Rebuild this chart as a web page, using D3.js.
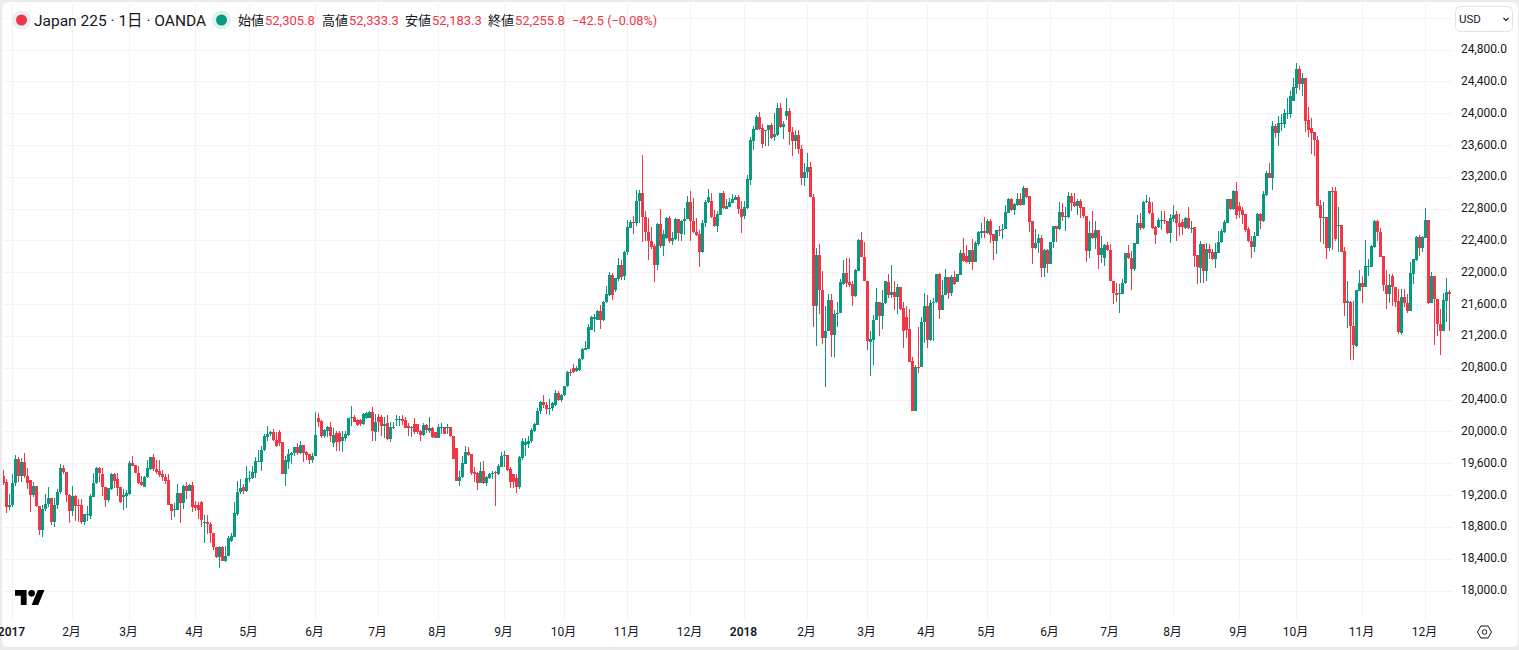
<!DOCTYPE html>
<html><head><meta charset="utf-8">
<script src="https://cdn.jsdelivr.net/npm/d3@7/dist/d3.min.js"></script>
<style>
html,body{margin:0;padding:0;background:#ebebeb;overflow:hidden}
svg{display:block}
text{font-family:Roboto,"Noto Sans CJK JP",sans-serif}
</style></head><body><svg id="c" width="1519" height="650"></svg>
<script>
// OHLC rows per month: [open, high, low, close]
const jan2017=[[19440,19520,19320,19350],[19370,19400,18970,19050],[19055,19210,19015,19080],[19080,19465,19045,19350],[19350,19705,19310,19650],[19650,19680,19360,19440],[19440,19660,19360,19610],[19610,19730,19420,19435],[19435,19545,19275,19350],[19390,19390,18990,19200],[19200,19360,19170,19315],[19315,19315,19055,19065],[19065,19065,18695,18765],[18765,19075,18675,19030],[19025,19210,19005,19085],[19085,19300,19055,19160],[19160,19160,18825,18865],[18865,19165,18800,19080],[19075,19275,19025,19235],[19235,19590,19210,19540],[19540,19575,19465,19485],[19485,19485,19110,19200],[19200,19210,18850,19005]];
const feb2017=[[19003,19309,18940,19183],[19183,19200,18877,19066],[19070,19150,18856,19065],[19070,19150,18830,18856],[18856,18961,18823,18961],[18953,19065,18877,18961],[18940,19212,18898,19183],[19179,19476,19170,19346],[19346,19556,19338,19539],[19539,19548,19359,19476],[19464,19535,19191,19296],[19296,19296,19045,19141],[19141,19292,19108,19283],[19275,19476,19267,19464],[19464,19476,19283,19380],[19400,19476,19191,19283],[19296,19296,19100,19108],[19170,19275,19015,19204],[19191,19267,19032,19221]];
const mar2017=[[19212,19631,19204,19602],[19602,19694,19560,19560],[19581,19581,19476,19476],[19476,19568,19334,19350],[19359,19443,19309,19325],[19304,19443,19296,19422],[19422,19644,19409,19539],[19527,19682,19518,19673],[19673,19715,19506,19527],[19527,19640,19464,19493],[19506,19640,19422,19455],[19464,19518,19380,19422],[19422,19464,19338,19380],[19388,19464,19078,19078],[19087,19087,18890,19003],[19015,19100,18919,19024],[19015,19338,19011,19225],[19225,19225,18848,19100],[19100,19325,19024,19317],[19309,19359,19149,19254],[19254,19338,19246,19330],[19330,19359,18990,19045]];
const apr2017=[[19074,19128,19003,19036],[19074,19107,18898,19015],[19107,19128,18793,18890],[18848,18948,18596,18860],[18865,18948,18710,18835],[18835,18865,18596,18718],[18722,18722,18513,18542],[18542,18542,18404,18425],[18425,18563,18286,18550],[18550,18563,18366,18374],[18374,18563,18353,18437],[18437,18688,18429,18655],[18626,18722,18605,18680],[18676,19107,18668,18969],[18961,19380,18940,19233],[19233,19401,19212,19283],[19296,19338,19212,19254],[19254,19568,19233,19409]];
const may2017=[[19400,19500,19359,19413],[19409,19568,19401,19493],[19476,19673,19418,19627],[19619,19770,19610,19631],[19619,19820,19500,19770],[19770,19966,19757,19937],[19933,20063,19883,19966],[19966,20008,19945,19987],[19987,20029,19883,19895],[19895,19987,19799,19820],[19996,20017,19811,19853],[19862,19862,19464,19464],[19464,19694,19317,19640],[19619,19778,19527,19715],[19703,19744,19589,19728],[19723,19799,19694,19799],[19799,19853,19703,19728],[19728,19883,19715,19828],[19828,19828,19610,19728],[19736,19757,19644,19703],[19715,19715,19589,19636],[19640,19728,19602,19694]];
const jun2017=[[19694,20247,19686,19954],[20163,20230,20050,20122],[20134,20147,19912,19945],[19945,20029,19912,20021],[20008,20063,19925,20050],[20050,20113,19870,19945],[19853,20038,19799,19954],[19975,20008,19757,19862],[19975,20008,19757,19870],[19883,20008,19744,19925],[19912,20008,19883,19966],[19958,20163,19945,20163],[20163,20314,20071,20176],[20176,20205,20113,20122],[20147,20155,20071,20080],[20147,20155,20071,20092],[20092,20230,20080,20218],[20168,20239,20155,20226],[20168,20260,20163,20239],[20239,20302,19883,20008],[19987,20218,19883,20122]];
const jul2017=[[20176,20218,19996,20113],[20176,20205,19945,20063],[20063,20176,19912,20092],[20105,20205,19895,19904],[19904,20113,19870,20050],[20042,20122,20029,20059],[20147,20205,20063,20155],[20147,20189,20071,20155],[20155,20205,20080,20126],[20142,20176,20038,20042],[20063,20105,19945,20038],[20038,20063,19925,20050],[20092,20168,19966,19987],[20092,20092,19966,19987],[20000,20021,19883,19958],[19954,20105,19945,20080],[20080,20092,19979,20017],[20008,20176,19975,20038],[20038,20050,19912,19925],[19987,19996,19912,19916]];
const aug2017=[[19916,20092,19912,20050],[20038,20105,19966,20059],[20059,20059,19971,19971],[20042,20092,19966,20054],[20059,20059,19925,19945],[19945,19945,19652,19652],[19790,19790,19380,19380],[19380,19506,19317,19422],[19422,19694,19418,19602],[19589,19820,19589,19744],[19744,19799,19694,19703],[19715,19715,19451,19476],[19485,19547,19359,19468],[19476,19485,19267,19350],[19350,19610,19346,19506],[19506,19631,19338,19350],[19350,19443,19317,19422],[19409,19476,19401,19464],[19459,19506,19401,19476],[19485,19506,19066,19476],[19464,19589,19451,19568],[19547,19744,19547,19694]];
const sep2017=[[19694,19757,19547,19707],[19703,19703,19506,19518],[19527,19547,19283,19367],[19464,19464,19283,19359],[19413,19464,19225,19296],[19296,19686,19275,19673],[19660,19912,19635,19875],[19824,19912,19686,19862],[19837,19937,19786,19875],[19874,20038,19850,20013],[20001,20106,19988,20097],[20085,20294,20076,20260],[20252,20386,20223,20369],[20369,20462,20294,20336],[20336,20369,20223,20281],[20281,20407,20210,20294],[20294,20365,20252,20357],[20327,20524,20315,20487],[20487,20504,20378,20390],[20390,20474,20374,20462]];
const oct2017=[[20453,20575,20441,20575],[20566,20759,20558,20750],[20750,20784,20692,20738],[20792,20851,20734,20746],[20755,20818,20747,20792],[20768,20923,20755,20914],[20906,21052,20902,21040],[21027,21132,21019,21048],[21040,21354,21036,21312],[21279,21446,21279,21434],[21413,21480,21253,21434],[21404,21522,21396,21513],[21513,21593,21291,21404],[21396,21635,21388,21626],[21622,21823,21614,21727],[21719,22000,21698,21970],[21970,21991,21656,21719],[21782,21928,21756,21928],[21920,22184,21886,22096],[22096,22159,21907,21941],[21949,22272,21899,22255]];
const nov2017=[[22251,22661,22222,22569],[22561,22661,22557,22636],[22636,22712,22485,22620],[22615,23039,22578,22900],[22892,23039,22620,23001],[23001,23478,22377,22691],[22691,22775,22389,22502],[22502,22682,22159,22393],[22393,22569,22293,22318],[22335,22360,21874,22096],[22096,22620,22025,22611],[22611,22800,22305,22335],[22335,22536,22200,22485],[22427,22695,22419,22687],[22687,22712,22368,22393],[22398,22506,22347,22435],[22419,22687,22410,22674],[22674,22674,22389,22494],[22485,22661,22389,22649],[22649,22808,22473,22674],[22666,22963,22666,22888]];
const dec2017=[[22888,23018,22389,22649],[22649,22934,22498,22502],[22510,22682,22452,22473],[22485,22536,22062,22251],[22251,22661,22238,22620],[22615,22913,22565,22888],[22879,23047,22871,22951],[22900,22997,22682,22691],[22695,22787,22569,22578],[22578,22770,22502,22733],[22720,23001,22716,23001],[23001,23026,22800,22812],[22800,22925,22796,22837],[22825,22938,22820,22883],[22875,22980,22875,22921],[22913,22976,22908,22951],[22951,22976,22733,22791],[22800,22900,22494,22699],[22703,22900,22674,22817]];
const jan2018=[[22810,23225,22793,23175],[23160,23694,23100,23665],[23656,23841,23539,23799],[23790,23979,23782,23954],[23954,24017,23782,23803],[23811,23866,23564,23615],[23782,23790,23589,23790],[23782,23853,23581,23849],[23849,23878,23677,23686],[23694,24008,23656,23740],[23728,24126,23719,24067],[24067,24126,23811,23820],[23820,23904,23677,23866],[23958,24189,23916,24029],[24029,24063,23602,23757],[23765,23824,23464,23644],[23644,23790,23552,23728],[23728,23782,23489,23547],[23547,23598,23099,23191],[23191,23371,23087,23258]];
const feb2018=[[23254,23497,23183,23321],[23321,23388,22940,22940],[22944,22986,21306,21582],[21582,22303,21067,22219],[22219,22357,21478,21771],[21779,22018,21100,21180],[21180,21578,20564,21256],[21256,21729,21256,21654],[21654,21729,20929,21214],[21214,21528,20941,21478],[21478,21628,21310,21494],[21494,21918,21486,21880],[21855,22156,21842,21993],[21993,22177,21809,21863],[21880,22177,21809,21842],[21855,21884,21578,21704],[21704,22043,21687,22031],[22022,22416,22022,22408],[22408,22508,22190,22190],[22190,22383,21884,21884]];
const mar2018=[[21892,21892,21025,21142],[21125,21264,20690,21159],[21150,21465,20836,21402],[21394,21800,21394,21628],[21628,21628,21193,21452],[21452,21771,21293,21612],[21612,21888,21603,21888],[21880,21972,21675,21716],[21716,22090,21675,21754],[21754,21888,21528,21691],[21691,21855,21473,21817],[21817,21821,21528,21540],[21553,21628,21050,21268],[21440,21574,21176,21276],[21289,21540,20866,20875],[20887,20941,20262,20262],[20262,20836,20262,20807],[20807,21314,20740,20800],[20803,21436,20803,21377],[21377,21742,21117,21578]];
const apr2018=[[21578,21716,21042,21151],[21151,21654,21142,21612],[21612,21674,21142,21624],[21624,21981,21612,21981],[21981,21997,21411,21528],[21528,21905,21528,21716],[21716,22043,21708,21943],[21943,21943,21670,21745],[21745,21968,21696,21943],[21943,22018,21842,21855],[21876,21980,21872,21981],[21968,22282,21968,22245],[22245,22429,22127,22136],[22207,22345,22115,22123],[22123,22282,22102,22282],[22282,22420,22031,22131],[22131,22387,22131,22374],[22358,22513,22333,22500],[22498,22623,22431,22514],[22514,22698,22435,22498]];
const may2018=[[22494,22665,22477,22640],[22640,22665,22372,22468],[22477,22477,22155,22393],[22393,22527,22230,22527],[22527,22581,22456,22514],[22531,22602,22422,22548],[22540,22840,22540,22753],[22745,22937,22740,22916],[22916,22937,22770,22778],[22778,22874,22719,22853],[22840,22991,22832,22924],[22924,22991,22832,22840],[22845,23083,22840,23054],[23054,23054,22937,22945],[22953,22953,22506,22631],[22640,22640,22101,22305],[22305,22548,22289,22364],[22364,22477,22247,22435],[22435,22464,21942,22055],[22055,22297,21942,22276],[22276,22297,21996,22101]];
const jun2018=[[22101,22385,22101,22385],[22381,22581,22305,22577],[22577,22581,22381,22544],[22540,22882,22531,22761],[22761,22874,22644,22698],[22694,22824,22519,22707],[22694,23008,22686,22953],[22953,23000,22770,22874],[22882,22991,22824,22832],[22832,22916,22715,22891],[22891,22924,22686,22811],[22815,22815,22686,22707],[22707,22707,22130,22268],[22268,22644,22180,22498],[22498,22774,22422,22431],[22427,22644,22289,22527],[22527,22527,22038,22218],[22214,22456,22122,22310],[22184,22351,22080,22339],[22339,22381,22268,22276]];
const jul2018=[[22276,22351,21892,21892],[21892,21892,21599,21737],[21745,21871,21628,21712],[21725,21850,21490,21737],[21733,21913,21725,21871],[21867,22247,21850,22239],[22239,22347,22163,22180],[22180,22264,21779,22038],[22038,22372,22017,22364],[22356,22715,22351,22615],[22615,22749,22531,22552],[22552,22895,22540,22886],[22878,22966,22874,22891],[22886,22941,22736,22744],[22749,22886,22548,22552],[22573,22581,22351,22468],[22565,22686,22560,22657],[22644,22770,22527,22652],[22652,22770,22602,22644],[22644,22644,22481,22489],[22489,22728,22364,22678]];
const aug2018=[[22665,22840,22632,22724],[22728,22765,22393,22615],[22623,22728,22456,22565],[22636,22665,22468,22565],[22552,22694,22548,22678],[22678,22820,22548,22552],[22548,22644,22498,22560],[22565,22565,22067,22205],[22214,22214,21850,22071],[22059,22389,21871,22351],[22351,22351,21862,22017],[22017,22364,21887,22289],[22289,22351,22163,22247],[22255,22289,22155,22163],[22163,22372,22055,22255],[22247,22519,22239,22385],[22381,22540,22372,22514],[22506,22652,22498,22632],[22623,22916,22615,22916],[22916,22916,22782,22799],[22799,23033,22782,23024],[23024,23133,22665,22715]];
const sep2018=[[22829,22879,22678,22774],[22783,22816,22607,22720],[22733,22733,22502,22531],[22544,22573,22380,22389],[22397,22460,22179,22322],[22322,22502,22259,22460],[22460,22745,22452,22733],[22733,22745,22544,22649],[22640,23026,22636,22984],[22975,23269,22963,23248],[23248,23373,23181,23189],[23189,23901,23038,23834],[23834,23864,23684,23750],[23750,23968,23591,23872],[23864,23989,23780,23872],[23864,24052,23813,23998],[23989,24190,23927,24002],[23989,24274,23935,24211],[24157,24438,24149,24325]];
const oct2018=[[24312,24630,24241,24555],[24555,24589,24295,24366],[24366,24505,24211,24442],[24442,24442,23759,23901],[23910,24073,23696,23792],[23809,23939,23487,23750],[23767,23767,23457,23663],[23663,23717,22837,22837],[22845,22912,22376,22682],[22682,22879,22355,22695],[22695,22695,22167,22305],[22305,23022,22271,23022],[23022,23068,22284,23005],[23022,23068,22397,22418],[22585,22816,22259,22594],[22594,22594,22250,22259],[22267,22317,21455,21614],[21614,21895,21300,21643],[21622,21635,20897,21321],[21321,21635,20897,21086],[21077,21781,21065,21777],[21768,22032,21760,21865]];
const nov2018=[[21865,21957,21609,21819],[21819,22405,21811,22075],[22067,22167,21957,22075],[22067,22343,22062,22330],[22313,22653,22305,22644],[22644,22657,22389,22502],[22510,22557,22188,22196],[22200,22200,21760,21840],[21840,22033,21538,21731],[21731,21978,21609,21840],[21950,21978,21580,21811],[21811,21811,21559,21630],[21635,21790,21220,21245],[21237,21790,21216,21689],[21689,21790,21559,21609],[21614,21727,21488,21517],[21517,22125,21509,21987],[21978,22167,21853,22167],[22158,22460,22146,22443],[22443,22468,22209,22309],[22309,22460,22250,22443]];
const dec2018=[[22435,22808,22426,22657],[22657,22657,21601,21609],[21618,21999,21609,21953],[21953,21953,21090,21664],[21664,21664,21203,21354],[21350,21538,20960,21266],[21266,21739,21266,21651],[21643,21928,21371,21748],[21748,21781,21266,21722]];

const timeTickIndex=[3,23,42,64,82,104,125,145,167,187,208,229,247,268,288,308,328,349,369,390,412,431,453,474];
const timeTickLabels=["2017","2月","3月","4月","5月","6月","7月","8月","9月","10月","11月","12月","2018","2月","3月","4月","5月","6月","7月","8月","9月","10月","11月","12月"];
const priceTicks=[18000,18400,18800,19200,19600,20000,20400,20800,21200,21600,22000,22400,22800,23200,23600,24000,24400,24800];
const gridOnlyTicks=[25200];
const ohlcLabels=["始値","高値","安値","終値"];
const ohlcValues=["52,305.8","52,333.3","52,183.3","52,255.8"];
const changeText="−42.5 (−0.08%)";
const titleText="Japan 225 · 1日 · OANDA";

const UP="#089981",DOWN="#F23645",GRID="#f3f3f4",TXT="#131722";
const candles=[jan2017,feb2017,mar2017,apr2017,may2017,jun2017,jul2017,aug2017,sep2017,oct2017,nov2017,dec2017,jan2018,feb2018,mar2018,apr2018,may2018,jun2018,jul2018,aug2018,sep2018,oct2018,nov2018,dec2018].flat();

const svg=d3.select("#c");
svg.append("rect").attr("x",2).attr("y",2).attr("width",1516).attr("height",645).attr("rx",6).attr("fill","#fff");

const x=d3.scaleLinear().domain([0,482]).range([3,1449]);
const y=d3.scaleLinear().domain([18000,24800]).range([590.5,49.5]);

// grid through axes
const gx=svg.append("g").attr("transform","translate(0,619)")
  .call(d3.axisBottom(x).tickValues(timeTickIndex).tickSize(-615).tickFormat(""));
gx.select(".domain").remove();
gx.selectAll("line").attr("stroke",GRID).attr("shape-rendering","crispEdges");
const gy=svg.append("g").attr("transform","translate(1452,0)")
  .call(d3.axisLeft(y).tickValues(priceTicks.concat(gridOnlyTicks)).tickSize(1449).tickFormat(""));
gy.select(".domain").remove();
gy.selectAll("line").attr("stroke",GRID).attr("shape-rendering","crispEdges");

// candles
svg.append("clipPath").attr("id","clip").append("rect").attr("x",3).attr("y",2).attr("width",1449).attr("height",617);
const cg=svg.append("g").attr("clip-path","url(#clip)").attr("shape-rendering","crispEdges");
const col=d=>d[3]>=d[0]?UP:DOWN;
cg.selectAll("rect.w").data(candles).join("rect").attr("class","w")
  .attr("x",(d,i)=>x(i)).attr("width",1)
  .attr("y",d=>Math.round(y(d[1]))).attr("height",d=>Math.max(1,Math.round(y(d[2]))-Math.round(y(d[1]))))
  .attr("fill",col);
cg.selectAll("rect.b").data(candles).join("rect").attr("class","b")
  .attr("x",(d,i)=>x(i)-1).attr("width",3)
  .attr("y",d=>Math.round(y(Math.max(d[0],d[3])))).attr("height",d=>Math.max(1,Math.round(y(Math.min(d[0],d[3])))-Math.round(y(Math.max(d[0],d[3])))))
  .attr("fill",col);

// price axis
const py=svg.append("g").attr("transform","translate(1507,-0.8)")
  .call(d3.axisLeft(y).tickValues(priceTicks).tickSize(0).tickPadding(0).tickFormat(d3.format(",.1f")));
py.select(".domain").remove();
py.selectAll("text").attr("font-size",12).attr("fill",TXT).attr("font-family","Roboto");

// time axis
const tx=svg.append("g").attr("transform","translate(-1,627)")
  .call(d3.axisBottom(x).tickValues(timeTickIndex).tickSize(0).tickPadding(0).tickFormat((d,i)=>timeTickLabels[i]));
tx.select(".domain").remove();
tx.selectAll("text").attr("font-size",12).attr("fill",TXT)
  .attr("font-weight",(d,i)=>/^20/.test(timeTickLabels[i])?600:400);

// legend
svg.append("circle").attr("cx",21.5).attr("cy",20).attr("r",9.5).attr("fill","#eceef6");
svg.append("circle").attr("cx",21.5).attr("cy",20).attr("r",5.5).attr("fill",DOWN);
svg.append("text").attr("x",34).attr("y",25.5).attr("font-size",15.5).attr("fill",TXT).text(titleText);
svg.append("circle").attr("cx",221.5).attr("cy",20).attr("r",9.5).attr("fill","#dff2ee");
svg.append("circle").attr("cx",221.5).attr("cy",20).attr("r",5.5).attr("fill",UP);
const labelX=[238,322,405,488],valueX=[265,349,432,515];
ohlcLabels.forEach((l,i)=>{
  svg.append("text").attr("x",labelX[i]).attr("y",25).attr("font-size",13).attr("fill",TXT).text(l);
  svg.append("text").attr("x",valueX[i]).attr("y",25).attr("font-size",13).attr("fill",DOWN).text(ohlcValues[i]);
});
svg.append("text").attr("x",572).attr("y",25).attr("font-size",12.7).attr("fill",DOWN).text(changeText);

// currency button
svg.append("rect").attr("x",1455.5).attr("y",6.5).attr("width",57).attr("height",25).attr("rx",5).attr("fill","#fff").attr("stroke","#e0e3eb");
svg.append("text").attr("x",1459).attr("y",23).attr("font-size",11.5).attr("fill",TXT).text("USD");
svg.append("path").attr("d","M1503.5 18l2.5 2.5l2.5-2.5").attr("fill","none").attr("stroke",TXT).attr("stroke-width",1.1);

// settings icon
svg.append("path").attr("d","M1477.5 632l3.4-6h7.2l3.4 6l-3.4 6h-7.2z").attr("fill","none").attr("stroke",TXT).attr("stroke-width",1);
svg.append("circle").attr("cx",1484.5).attr("cy",632).attr("r",2.3).attr("fill","none").attr("stroke",TXT).attr("stroke-width",1);

// logo
const lg=svg.append("g").attr("transform","translate(15,586.7) scale(0.83)").attr("fill","#000");
lg.append("path").attr("d","M14 22H7V11H0V4h14v18zM28 22h-8l7.5-18h8L28 22z");
lg.append("circle").attr("cx",20).attr("cy",8).attr("r",4);
</script></body></html>
